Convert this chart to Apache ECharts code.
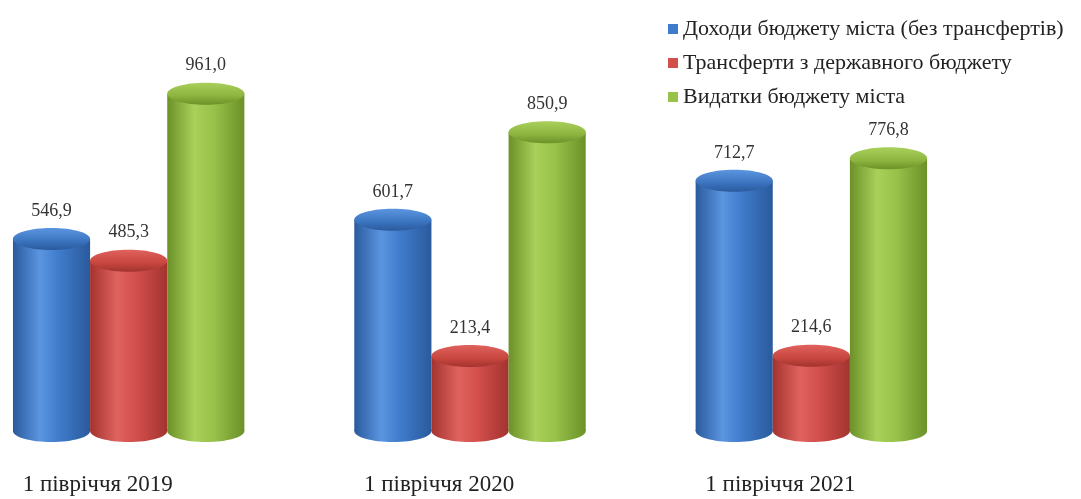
<!DOCTYPE html>
<html>
<head>
<meta charset="utf-8">
<script src="https://cdn.jsdelivr.net/npm/echarts@6/dist/echarts.min.js"></script>
<style>
html,body{margin:0;padding:0;background:#fff;}
#chart{width:1081px;height:499px;}
</style>
</head>
<body>
<div id="chart"></div>
<script>
var categories = ['1 півріччя 2019', '1 півріччя 2020', '1 півріччя 2021'];
var seriesNames = ['Доходи бюджету міста (без трансфертів)', 'Трансферти з державного бюджету', 'Видатки бюджету міста'];
var revenues = [546.9, 601.7, 712.7];
var transfers = [485.3, 213.4, 214.6];
var expenses = [961.0, 850.9, 776.8];

var palettes = [
  {base: '#3f7bcb', light: '#5b95e0', dark: '#2a5a9c', top: '#3b73bf'},
  {base: '#d24f4c', light: '#e0625e', dark: '#a3332f', top: '#c8473f'},
  {base: '#98c24a', light: '#a9d05a', dark: '#6b9128', top: '#8cb43e'}
];
var FONT = '"Liberation Serif", "Times New Roman", serif';

function fmt(v) { return v.toFixed(1).replace('.', ','); }

function makeSeries(idx, values) {
  var pal = palettes[idx];
  return {
    type: 'custom',
    name: seriesNames[idx],
    color: pal.base,
    data: values.map(function (v, i) { return [i, v]; }),
    encode: {x: 0, y: 1},
    renderItem: function (params, api) {
      var cat = api.value(0), val = api.value(1);
      var band = api.size([1, 0])[0];
      var w = band * 0.226;
      var center = api.coord([cat, 0])[0] + (idx - 1) * w;
      var yTop = api.coord([cat, val])[1];
      var yBot = api.coord([cat, 0])[1];
      var rx = w / 2, ry = 11;
      var grad = new echarts.graphic.LinearGradient(0, 0, 1, 0, [
        {offset: 0, color: pal.dark},
        {offset: 0.35, color: pal.light},
        {offset: 0.6, color: pal.base},
        {offset: 1, color: pal.dark}
      ]);
      var topGrad = new echarts.graphic.LinearGradient(0, 0, 0, 1, [
        {offset: 0, color: pal.light},
        {offset: 0.6, color: pal.top},
        {offset: 1, color: pal.dark}
      ]);
      return {
        type: 'group',
        children: [
          {type: 'ellipse', shape: {cx: center, cy: yBot, rx: rx, ry: ry}, style: {fill: grad}},
          {type: 'rect', shape: {x: center - rx, y: yTop, width: w, height: yBot - yTop}, style: {fill: grad}},
          {type: 'ellipse', shape: {cx: center, cy: yTop, rx: rx, ry: ry}, style: {fill: topGrad}},
          {type: 'text', style: {text: fmt(val), x: center, y: yTop - ry - 8, align: 'center', verticalAlign: 'bottom', fill: '#333', font: '18px ' + FONT}}
        ]
      };
    }
  };
}

var chart = echarts.init(document.getElementById('chart'));
chart.setOption({
  animation: false,
  backgroundColor: '#ffffff',
  legend: {
    orient: 'vertical',
    left: 663,
    top: 13,
    icon: 'rect',
    itemWidth: 10,
    itemHeight: 10,
    itemGap: 12,
    textStyle: {fontFamily: FONT, fontSize: 22, color: '#222'},
    data: seriesNames.map(function (n, i) { return {name: n, itemStyle: {color: palettes[i].base}}; })
  },
  grid: {left: -42, right: 99, top: 80, bottom: 68, containLabel: false, outerBoundsMode: 'none'},
  xAxis: {
    type: 'category',
    data: categories,
    axisLine: {show: false},
    axisTick: {show: false},
    axisLabel: {
      margin: 42,
      formatter: function (v) { return '{a|' + v + '}'; },
      rich: {a: {width: 212, align: 'left', fontFamily: FONT, fontSize: 23, color: '#222'}}
    }
  },
  yAxis: {type: 'value', min: 0, max: 1000, show: false, splitLine: {show: false}},
  series: [makeSeries(0, revenues), makeSeries(1, transfers), makeSeries(2, expenses)]
});
</script>
</body>
</html>
